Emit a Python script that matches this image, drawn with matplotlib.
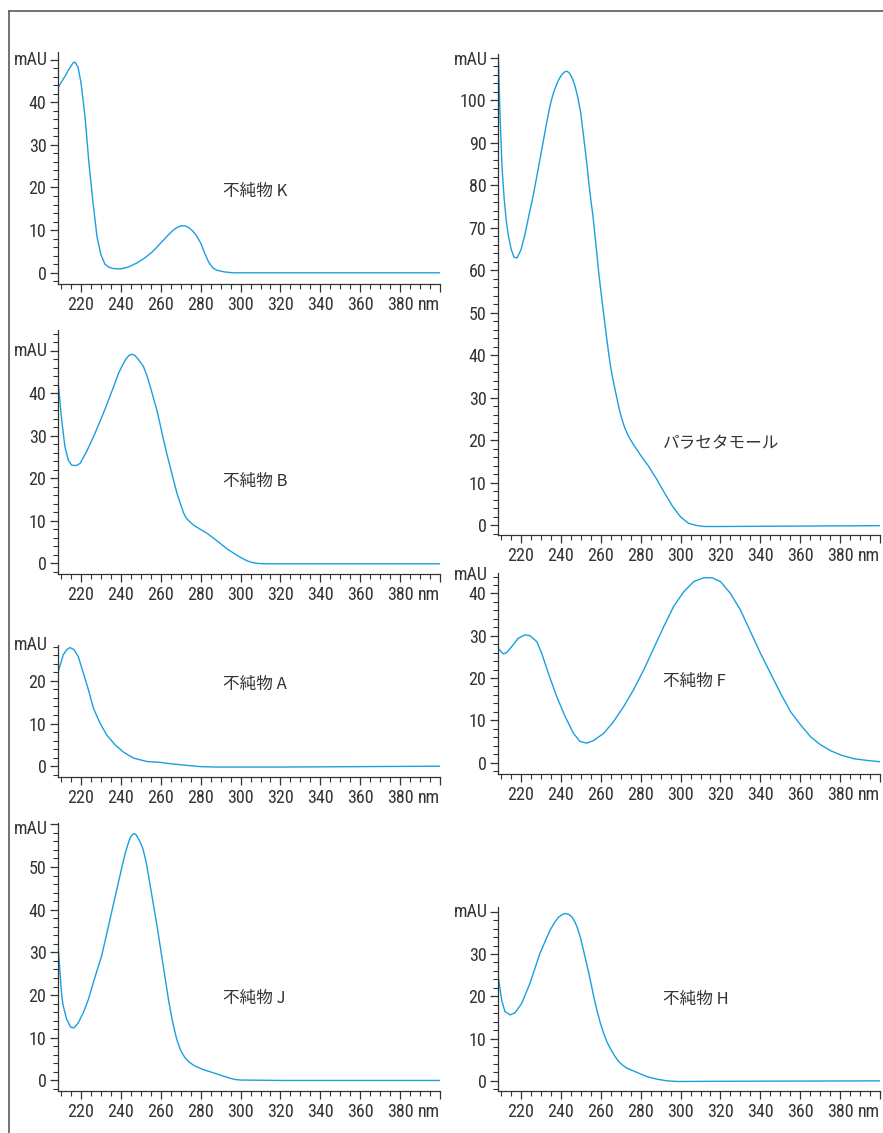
import matplotlib
matplotlib.use("Agg")
import matplotlib.pyplot as plt
from matplotlib.ticker import MultipleLocator, FixedLocator
from matplotlib.lines import Line2D

W, H = 883, 1133
LINE = "#1a9fe0"
INK = "#333333"
TICK_FONT = ["Roboto Condensed", "Liberation Sans", "DejaVu Sans"]
JP_FONT = ["Noto Sans CJK JP", "DejaVu Sans"]

# spectra (nm, mAU)
k_nm = [208.6, 210, 212, 214, 216, 217, 218.5, 220, 222, 224, 226, 228, 230, 232, 234, 236,
        240, 244, 248, 252, 256, 260, 264, 266, 268, 270, 272, 274, 276, 278, 280, 282, 284, 286,
        288, 292, 296, 320, 360, 400]
k_au = [43.5, 44.6, 46.1, 47.8, 49.2, 49.4, 48.2, 44.5, 36.6, 25.5, 16.5, 8.5, 4.2, 2.0, 1.3, 1.0,
        0.9, 1.4, 2.3, 3.5, 5.0, 7.0, 9.0, 9.9, 10.6, 11.0, 11.0, 10.6, 9.8, 8.6, 7.0, 4.6, 2.5, 1.2,
        0.6, 0.2, 0.0, 0.0, 0.0, 0.0]

b_nm = [208.6, 210.3, 211.9, 213.6, 215.3, 217.5, 219.5, 222.8, 227, 231.2, 235.4, 238.8, 241,
        242.5, 244, 245.5, 247, 248.5, 250, 251.3, 253, 254.7, 256.3, 258, 259.7, 261.4, 263,
        264.7, 266.4, 268.1, 270, 271.4, 272.7, 273.9, 275, 276.4, 279.5, 283.1, 286.5,
        289.8, 293, 296.5, 300, 303.2, 306, 308.3, 312, 340, 370, 400]
b_au = [42.2, 33.7, 27.5, 24.3, 23.1, 23.0, 23.5, 26.3, 30.6, 35.3, 40.4, 44.7, 46.8,
        48.1, 48.9, 49.2, 48.9, 48.1, 47.2, 46.3, 44.2, 41.6, 38.9, 36.1, 32.6, 29.0, 25.8,
        22.7, 19.5, 16.5, 13.8, 11.9, 10.7, 10.1, 9.6, 9.0, 8.1, 7.1, 5.9,
        4.7, 3.5, 2.4, 1.4, 0.6, 0.2, 0.0, -0.1, -0.1, -0.1, -0.1]

a_nm = [208.6, 211.1, 212.8, 214.5, 216.5, 218.6, 221.2, 223.7, 226.2, 229.5, 232.9, 237.1,
        241.3, 246.3, 253, 259.7, 266.4, 273.1, 279.8, 288.2, 320, 360, 400]
a_au = [22.2, 26.1, 27.3, 27.8, 27.3, 25.7, 21.8, 17.9, 13.6, 10.1, 7.3, 5.0,
        3.3, 1.9, 1.1, 0.9, 0.5, 0.2, -0.1, -0.2, -0.2, -0.1, 0.0]

j_nm = [208.6, 210.3, 211.1, 212.8, 214.8, 216.5, 218.6, 221.1, 223.7, 226.2, 230.4, 234.6,
        238.8, 240.5, 242.1, 243.5, 244.6, 245.6, 246.6, 247.5, 248.3, 249.5, 251, 252.5,
        254, 256, 258, 260, 262, 264, 266, 268, 270, 272, 274, 276, 278, 281.5, 285,
        288.2, 291.5, 294.9, 297.5, 300, 320, 360, 400]
j_au = [30.9, 19.9, 17.4, 14.3, 12.5, 12.3, 13.5, 15.8, 19.0, 23.0, 29.3, 37.9,
        46.5, 50.0, 53.1, 55.3, 56.8, 57.5, 57.8, 57.6, 57.0, 56.0, 54.3, 51.5,
        47.5, 42.0, 36.5, 30.5, 24.5, 18.5, 13.5, 9.6, 7.0, 5.4, 4.4, 3.7, 3.2, 2.5, 2.0,
        1.5, 1.0, 0.5, 0.2, 0.1, 0.0, 0.0, 0.0]

p_nm = [208.6, 209.5, 210.5, 211.5, 212.5, 213.5, 215, 216.5, 218, 220, 222, 224, 226, 228, 230,
        232, 234, 235, 236, 237, 238, 239, 240, 241, 242, 243, 244, 245, 246, 247, 248, 249,
        250, 252, 253, 254, 255, 256, 257, 258, 259, 260, 261, 262, 263, 264, 265, 266, 267,
        268, 269, 270, 271, 272, 273, 274, 276, 278, 280, 284, 288, 292, 296, 300, 304, 308,
        312, 320, 360, 400]
p_au = [110.5, 96, 84, 77, 72, 68.5, 65, 63, 62.9, 64.8, 68.5, 73, 77.3, 82.3, 87.4,
        92.5, 97.5, 99.6, 101.3, 102.7, 103.9, 104.9, 105.7, 106.3, 106.7, 106.8, 106.5, 105.8,
        104.8, 103.4, 101.6, 99.4, 96.8, 89, 85, 80.5, 76.5, 73, 68.5, 64, 59.2, 55.2, 51.3,
        47.5, 43.8, 40.2, 37, 34.5, 32.2, 30, 27.8, 25.9, 24.3, 22.9, 21.8, 20.8, 19.2, 17.8,
        16.4, 13.8, 10.8, 7.5, 4.4, 1.9, 0.4, -0.1, -0.35, -0.35, -0.25, -0.15]

f_nm = [208.6, 211.1, 212.8, 215.3, 218.6, 222, 224.5, 227.9, 230.4, 233.7, 237.9, 242.1, 246.3,
        249.6, 253, 256.3, 261.4, 266.4, 271.4, 276.4, 281.5, 286.5, 291.5, 296.5, 301.6,
        306.6, 311.6, 315.8, 320, 325, 330, 335.1, 340.1, 345.1, 350.1, 355.2, 360.2, 365.2,
        370.2, 375.3, 380.3, 387, 393.7, 400]
f_au = [27.0, 25.7, 26.0, 27.4, 29.4, 30.2, 30.0, 28.6, 25.8, 21.1, 15.6, 10.9, 6.9,
        5.0, 4.6, 5.2, 6.9, 9.7, 13.2, 17.2, 21.9, 27.0, 32.1, 36.9, 40.4,
        42.8, 43.7, 43.7, 42.8, 40.0, 36.1, 30.9, 25.8, 21.1, 16.4, 12.0, 8.9, 6.1,
        4.2, 2.8, 1.8, 0.9, 0.5, 0.2]

h_nm = [208.6, 210.3, 211.9, 214.5, 217, 220.3, 224.5, 229.5, 234.6, 237, 238.8, 240.5, 242.1,
        243.8, 245.5, 247, 248, 249.7, 251.3, 253, 254.7, 256.3, 258, 259.7, 261.4, 263, 264.7,
        266.8, 268.9, 271, 273.1, 278.1, 283.1, 288.2, 293.2, 298.2, 320, 360, 400]
h_au = [24.6, 19.1, 16.4, 15.6, 16.1, 18.3, 23.1, 30.2, 35.7, 37.6, 38.7, 39.3, 39.6,
        39.4, 38.8, 37.6, 36.5, 34.0, 30.9, 27.5, 23.9, 20.3, 16.8, 13.8, 11.3, 9.3, 7.7,
        6.0, 4.6, 3.7, 3.0, 2.0, 1.0, 0.4, 0.0, -0.15, -0.1, -0.05, 0.0]

names = ["不純物 K", "不純物 B", "不純物 A", "不純物 J", "パラセタモール", "不純物 F", "不純物 H"]
series = [(k_nm, k_au), (b_nm, b_au), (a_nm, a_au), (j_nm, j_au),
          (p_nm, p_au), (f_nm, f_au), (h_nm, h_au)]
ylims = [(-2.7, 51.7), (-2.5, 54.9), (-2.6, 28.4), (-2.4, 60.3),
         (-2.35, 110.8), (-2.7, 44.9), (-2.4, 41.2)]
mau_y = [50, 50, 28.5, 59, 109.5, 44.4, 40]

# pixel boxes: left, right, top, bottom
boxes = [(58.3, 440, 52.3, 284.3), (58.3, 440, 330, 574), (58.3, 440, 645, 777.3),
         (58.3, 440, 823, 1090.7), (498.3, 880, 54.3, 535), (498.3, 880, 572.7, 774),
         (498.3, 880, 906.7, 1091)]

fig = plt.figure(figsize=(W / 100, H / 100), dpi=100)
fig.add_artist(Line2D([9 / W, 1], [1 - 11 / H] * 2, color="#5a5a5a", lw=1.2))
fig.add_artist(Line2D([9 / W] * 2, [0, 1 - 11 / H], color="#5a5a5a", lw=1.2))

for name, (xs, ys), ylim, my, (l, r, t, b) in zip(names, series, ylims, mau_y, boxes):
    ax = fig.add_axes([l / W, 1 - b / H, (r - l) / W, (b - t) / H])
    ax.plot(xs, ys, color=LINE, lw=1.0)
    ax.set_xlim(208.6, 400)
    ax.set_ylim(*ylim)
    for s in ("top", "right"):
        ax.spines[s].set_visible(False)
    for s in ("left", "bottom"):
        ax.spines[s].set_color(INK)
        ax.spines[s].set_linewidth(0.9)

    xt = list(range(220, 401, 20))
    ax.xaxis.set_major_locator(FixedLocator(xt))
    ax.xaxis.set_minor_locator(MultipleLocator(5))
    xl = [str(v) for v in xt[:-1]] + ["nm"]
    ax.set_xticklabels(xl, family=TICK_FONT, fontsize=13, color=INK)
    ax.get_xticklabels()[-1].set_horizontalalignment("right")

    yt = list(range(0, int(ylim[1]) + 1, 10))
    ax.yaxis.set_major_locator(FixedLocator(yt))
    ax.yaxis.set_minor_locator(MultipleLocator(2))
    yl = ["" if v > my - 3 else str(v) for v in yt]
    ax.set_yticklabels(yl, family=TICK_FONT, fontsize=13, color=INK)

    ax.tick_params(which="major", length=6, width=0.9, color=INK, pad=2.5)
    ax.tick_params(which="minor", length=3.5, width=0.8, color=INK)
    ax.text(-0.027, my, "mAU", transform=ax.get_yaxis_transform(), ha="right", va="center",
            family=TICK_FONT, fontsize=13, color=INK)
    ax.text(291.3, 19.2, name, ha="left", va="center", family=JP_FONT, fontsize=12, color=INK)

fig.savefig("out.png", dpi=100)
